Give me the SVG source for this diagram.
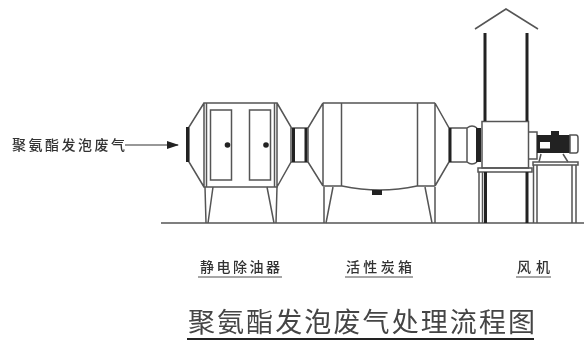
<svg xmlns="http://www.w3.org/2000/svg" width="584" height="341" viewBox="0 0 584 341">
<defs>
<filter id="soft" x="-5%" y="-5%" width="110%" height="110%"><feGaussianBlur stdDeviation="0.6"/></filter>
<marker id="arrow" markerUnits="userSpaceOnUse" markerWidth="12" markerHeight="8" refX="11" refY="4" orient="auto"><path d="M0 0L12 4L0 8Z" fill="#222"/></marker>
</defs>
<style>
.l{fill:none;stroke:#555;stroke-width:1.5}
.b{fill:none;stroke:#222;stroke-width:3}
.k{fill:#222;stroke:none}
.u{fill:none;stroke:#888;stroke-width:1.5}
text{font-family:"Noto Sans CJK SC","Noto Sans CJK JP",sans-serif;fill:#333}
.s{font-size:14px;font-weight:500}
.t{font-size:27px;fill:#444}
</style>
<rect width="584" height="341" fill="#fff"/>
<g filter="url(#soft)">
<g id="ground"><line class="l" x1="161" y1="223" x2="584" y2="223" stroke="#777"/></g>
<g id="filter-unit">
<path class="l" d="M204 103H277V187H204ZM204 103L189 127V162L204 187M277 103L291 127V162L277 187"/>
<path class="l" d="M206.500 103V187M274.500 103V187"/>
<rect class="l" x="210.500" y="110" width="21" height="70"/>
<rect class="l" x="249.500" y="110" width="21" height="70"/>
<circle class="k" cx="227.500" cy="145" r="2.800"/>
<circle class="k" cx="266" cy="145" r="2.800"/>
<path class="k" d="M186 127h3v35h-3z"/>
<path class="l" d="M205 187L206 223M213 187L208 223M277 187L276 223M267 187L274 223"/>
</g>
<g id="duct-a">
<path class="l" d="M291 128H308M291 162H308"/>
<path class="k" d="M292 128h3v34h-3zM304.500 128h3v34h-3z"/>
</g>
<g id="carbon-unit">
<path class="l" d="M323 103H435M323 103V186M435 103V186M323 103L308 128V162L323 186M435 103L449 128V162L435 186"/>
<path class="l" d="M341.500 103V186M417.500 103V186"/>
<path class="l" d="M323 186H342Q380 194 417 186H435"/>
<path class="k" d="M372 190h10v5h-10z"/>
<path class="l" d="M324 187V223M333 187L326 223M435 187V223M425 187L432 223"/>
</g>
<g id="duct-b">
<path class="l" d="M449 128H467M449 162H467M467 128Q472 124 477 128M467 162Q472 166 477 162M467 128V162"/>
<path class="k" d="M449 128h2.500v34h-2.500zM476 128h5v34h-5z"/>
</g>
<g id="fan">
<rect class="l" x="482" y="121.500" width="46.500" height="46.500"/>
<path class="b" d="M485 33V121M527 33V121"/>
<path class="l" d="M475 29L506 9L538 29"/>
<path class="l" d="M478 168H532V172H478Z"/>
<path class="l" d="M479 172V223M482.500 172V223"/>
<path class="b" d="M485.500 172V223M527 172V223"/>
</g>
<g id="motor">
<path class="l" d="M529 132H537V159H529"/>
<path class="k" d="M537 135h33v18h-33zM551 131h8v5h-8z"/>
<rect x="540" y="142" width="10" height="6.500" fill="#fff"/>
<path class="l" d="M570 135h6q2 0 2 3v12q0 3 -2 3h-6z"/>
<path class="l" d="M541 154L539 162M563 154L568 162"/>
<path class="l" d="M533 162H578V165H533Z"/>
<path class="l" d="M533.500 165V223M537 165V223M572 165V223M576 165V223"/>
</g>
<g id="connectors">
<line x1="125" y1="145" x2="178" y2="145" stroke="#333" stroke-width="1.2" marker-end="url(#arrow)"/>
</g>
<g id="labels">
<text class="s" x="12" y="150" textLength="113" lengthAdjust="spacing">聚氨酯发泡废气</text>
<text class="s" x="200" y="272" textLength="80" lengthAdjust="spacing">静电除油器</text>
<line class="u" x1="198" y1="277" x2="282" y2="277"/>
<text class="s" x="346" y="272" textLength="66" lengthAdjust="spacing">活性炭箱</text>
<line class="u" x1="345" y1="277" x2="413" y2="277"/>
<text class="s" x="517" y="272" textLength="33" lengthAdjust="spacing">风机</text>
<line class="u" x1="516" y1="277" x2="551" y2="277"/>
<text class="t" x="188" y="332" textLength="347" lengthAdjust="spacing">聚氨酯发泡废气处理流程图</text>
<line x1="187" y1="339" x2="534" y2="339" stroke="#222" stroke-width="2"/>
</g>
</g>
</svg>
